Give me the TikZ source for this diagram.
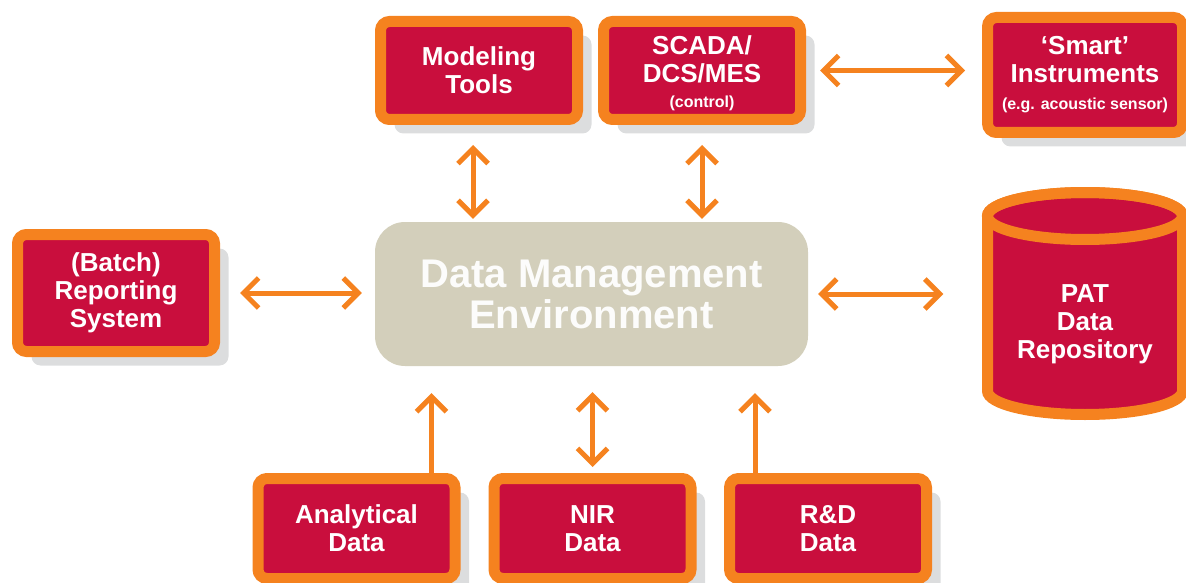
\documentclass[tikz,border=0pt]{standalone}
\usepackage{fontspec}
\setmainfont{Liberation Sans}
\usetikzlibrary{arrows.meta,shadows,calc}
\definecolor{boxred}{HTML}{C90E3D}
\definecolor{rim}{HTML}{F5821F}
\definecolor{stone}{HTML}{D3CFBB}
\definecolor{shade}{HTML}{DCDDDE}
\tikzset{
	unit/.style={
			draw=rim, fill=boxred, line width=11pt, rounded corners=9pt,
			text=white, font=\bfseries\fontsize{26}{28}\selectfont, align=center,
			inner sep=0pt, minimum width=197pt, minimum height=98pt,
			drop shadow={shadow xshift=14pt, shadow yshift=-14pt, fill=shade, opacity=1}
		},
	barb/.tip={Straight Barb[length=15pt,width=30pt]},
	link/.style={draw=rim, line width=5pt, barb-barb},
	feed/.style={draw=rim, line width=5pt, -barb}
}
\newcommand{\aside}[1]{{\fontsize{16}{18}\selectfont #1}}

\begin{document}
\begin{tikzpicture}[x=1pt, y=-1pt]
	\useasboundingbox (0,0) rectangle (1186,583);

	\node[unit] (model) at (479,70.5) {Modeling\\Tools};
	\node[unit] (scada) at (702,70.5) {\raisebox{0pt}[24pt]{SCADA/}\\DCS/MES\\[-3pt]\aside{(control)}};
	\node[unit, minimum width=195pt, minimum height=115pt] (smart) at (1085,75) {`Smart'\\Instruments\\[-1pt]\aside{(e.g. acoustic sensor)}};
	\node[unit, minimum height=117pt] (batch) at (116,293) {(Batch)\\Reporting\\System};

	\node[fill=stone, rounded corners=30pt, minimum width=433pt, minimum height=144pt, inner sep=0pt,
		text=white!94!stone, font=\bfseries\fontsize{40}{41}\selectfont, align=center] (dme) at (591.5,294) {Data Management\\Environment};

	% repository drum
	\filldraw[draw=rim, fill=boxred, line width=11pt]
		(987.5,216) -- (987.5,391) arc[start angle=180, end angle=0, x radius=97.5, y radius=23.5]
		-- (1182.5,216) arc[start angle=0, end angle=-180, x radius=97.5, y radius=23.5] -- cycle;
	\draw[draw=rim, line width=11pt] (1085,216) ellipse[x radius=97.5, y radius=23.5];
	\node[minimum width=195pt, inner sep=0pt, text=white, font=\bfseries\fontsize{26}{28}\selectfont, align=center] (pat) at (1085,324) {PAT\\Data\\Repository};

	\node[unit, minimum height=100pt] (anal) at (356.5,528.5) {Analytical\\Data};
	\node[unit, minimum height=100pt] (nir) at (592.5,528.5) {NIR\\Data};
	\node[unit, minimum height=100pt] (rnd) at (828,528.5) {R\&D\\Data};

	\draw[link, shorten <=20pt, shorten >=3pt] ([xshift=-6pt]model.south) -- ([xshift=-6pt]model.south |- dme.north);
	\draw[link, shorten <=20pt, shorten >=3pt] (scada.south) -- (scada.south |- dme.north);
	\draw[link, shorten <=14pt, shorten >=17pt] (scada.east) -- (scada.east -| smart.west);
	\draw[link, shorten <=20pt, shorten >=13pt] (batch.east) -- (batch.east -| dme.west);
	\draw[link, shorten <=10pt, shorten >=44pt] (dme.east) -- (dme.east -| pat.west);
	\draw[feed, shorten >=27pt] ([xshift=75pt]anal.north) -- ([xshift=75pt]anal.north |- dme.south);
	\draw[link, shorten <=6pt, shorten >=26pt] (nir.north) -- (nir.north |- dme.south);
	\draw[feed, shorten >=27pt] ([xshift=-73pt]rnd.north) -- ([xshift=-73pt]rnd.north |- dme.south);
\end{tikzpicture}
\end{document}
